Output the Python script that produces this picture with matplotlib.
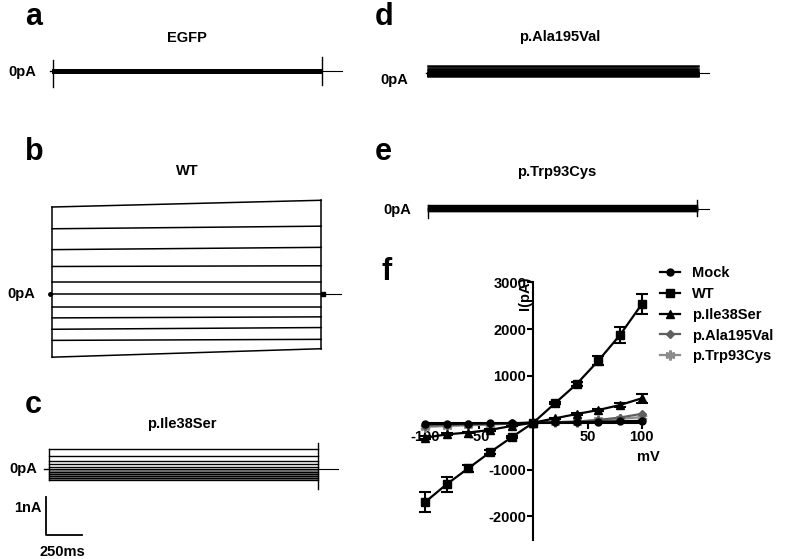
import numpy as np
import matplotlib
matplotlib.use('Agg')
import matplotlib.pyplot as plt
from matplotlib.lines import Line2D

plt.rcParams['font.family'] = ['Liberation Sans', 'DejaVu Sans']
plt.rcParams['font.weight'] = 'bold'
plt.rcParams['axes.unicode_minus'] = False

W, H = 787, 559

# voltage steps, -100 .. +100 mV
voltages = [-100, -80, -60, -40, -20, 0, 20, 40, 60, 80, 100]
sweep_ms = 1870

# representative whole-cell traces (pA), one level per sweep
wt_start = [-1642, -1203, -913, -616, -326, 0, 332, 726, 1166, 1711, 2279]
wt_end = [-1421, -1176, -868, -589, -326, 0, 332, 745, 1226, 1779, 2455]
ile_trace = [-279, -235, -183, -130, -63, 0, 52, 130, 225, 355, 522]
egfp_trace = [-50, -40, -30, -20, -10, 0, 10, 20, 30, 40, 50]
ala_trace = [-60, -50, -40, -30, -15, 0, 10, 25, 60, 110, 190]
trp_trace = [-70, -55, -45, -30, -15, 0, 10, 20, 40, 60, 90]

# I-V curves, mean and sem (pA)
mock_iv = [-30, -25, -20, -15, -10, 0, 5, 10, 20, 30, 40]
wt_iv = [-1701, -1316, -975, -633, -312, 0, 415, 827, 1325, 1874, 2530]
wt_err = [210, 160, 80, 40, 25, 0, 25, 40, 100, 165, 210]
ile_iv = [-320, -250, -210, -155, -70, 0, 93, 186, 271, 378, 521]
ile_err = [30, 20, 20, 15, 10, 0, 10, 15, 20, 40, 90]
ala_iv = [-60, -50, -40, -30, -15, 0, 10, 25, 60, 110, 190]
trp_iv = [-90, -70, -55, -40, -20, 0, 10, 20, 50, 80, 120]

fig = plt.figure(figsize=(W / 100, H / 100), dpi=100)

SX = 36 / 250.0     # px per ms
SY = 38.3 / 1000.0  # px per pA


def trace_axes(ox, oy, left=30, right=50, up=110, down=70):
    # axes with t=0, I=0 sitting at pixel (ox, oy)
    x0 = ox - left
    x1 = ox + sweep_ms * SX + right
    ax = fig.add_axes([x0 / W, 1 - (oy + down) / H, (x1 - x0) / W, (up + down) / H])
    ax.set_xlim(-left / SX, sweep_ms + right / SX)
    ax.set_ylim(-down / SY, up / SY)
    ax.axis('off')
    return ax


def ftext(x, y, s, **kw):
    fig.text(x / W, 1 - y / H, s, **kw)


t = [0, sweep_ms]
tail = [sweep_ms, sweep_ms + 140]

# a - EGFP
ax = trace_axes(53, 71.5)
for lv in egfp_trace:
    ax.plot(t, [lv, lv], color='k', lw=1.2)
ax.plot([0, 0], [-400, 300], 'k', lw=1)
ax.plot([sweep_ms] * 2, [-350, 380], 'k', lw=1)
ax.plot([-20, 0], [0, 0], 'k', lw=1)
ax.plot(tail, [0, 0], 'k', lw=0.8)

# b - WT
ax = trace_axes(52, 294.3)
for s, e in zip(wt_start, wt_end):
    ax.plot(t, [s, e], color='k', lw=1.1)
ax.plot([0, 0], [min(wt_start), max(wt_start)], 'k', lw=1.1)
ax.plot([sweep_ms] * 2, [min(wt_end), max(wt_end)], 'k', lw=1.1)
ax.plot([-15, 0], [0, 0], 'k', lw=1, marker='o', ms=2.5, markevery=[0])
ax.plot(tail, [0, 0], 'k', lw=0.8)
ax.plot([sweep_ms + 12], [0], 'ks', ms=3.5)

# c - p.Ile38Ser
ax = trace_axes(48.5, 469.3)
ax.fill_between(t, min(ile_trace), 0, color='#888888', lw=0, zorder=0)
for lv in ile_trace:
    ax.plot(t, [lv, lv], color='k', lw=1)
ax.plot([0, 0], [min(ile_trace), max(ile_trace)], 'k', lw=1)
ax.plot([sweep_ms] * 2, [-520, 680], 'k', lw=1)
ax.plot([-30, 0], [0, 0], 'k', lw=1)
ax.plot(tail, [0, 0], 'k', lw=0.8)
# scale bar 1 nA / 250 ms
ax.plot([-17, -17, 233], [-715, -1715, -1715], 'k', lw=1.3)

# d - p.Ala195Val
ax = trace_axes(428.3, 73.5)
ax.fill_between(t, min(ala_trace), max(ala_trace), color='#707070', lw=0)
for lv in ala_trace:
    ax.plot(t, [lv, lv], color='k', lw=1.8)
ax.plot([-15, 0], [0, 0], 'k', lw=1)
ax.plot([sweep_ms, sweep_ms + 80], [0, 0], 'k', lw=0.8)

# e - p.Trp93Cys
ax = trace_axes(428, 208.7)
for lv in trp_trace:
    ax.plot(t, [lv, lv], color='k', lw=1.0)
ax.plot([0, 0], [-250, 100], 'k', lw=1)
ax.plot([sweep_ms] * 2, [-190, 230], 'k', lw=1)
ax.plot([sweep_ms, sweep_ms + 80], [0, 0], 'k', lw=0.8)

# f - I-V
mx = 1.084  # px per mV
ax = fig.add_axes([(533.3 - 110 * mx) / W, 1 - 539.7 / H, 220 * mx / W, (539.7 - 282.3) / H])
ax.set_xlim(-110, 110)
ax.set_ylim(-2500, 3000)
ax.patch.set_visible(False)
for sp in ['top', 'right']:
    ax.spines[sp].set_visible(False)
ax.spines['left'].set_position(('data', 0))
ax.spines['bottom'].set_position(('data', 0))
ax.spines['bottom'].set_bounds(-100, 100)
for sp in ['left', 'bottom']:
    ax.spines[sp].set_linewidth(1.5)
ax.set_xticks([-100, -50, 50, 100])
ax.set_yticks([-2000, -1000, 1000, 2000, 3000])
ax.tick_params(width=1.5, length=4, labelsize=10.5, pad=1)
for lab in ax.get_xticklabels() + ax.get_yticklabels():
    lab.set_fontweight('bold')

eb = dict(capsize=4, elinewidth=1.5, capthick=1.5, lw=1.6, clip_on=False)
styles = [
    ('Mock', 'k', 'o', 5, 1),
    ('WT', 'k', 's', 5.5, 1),
    ('p.Ile38Ser', 'k', '^', 5.5, 1),
    ('p.Ala195Val', '#5f5f5f', 'D', 4.5, 1),
    ('p.Trp93Cys', '#8c8c8c', (6, 2, 0), 7, 2),
]
ax.plot(voltages, trp_iv, color='#8c8c8c', marker=(6, 2, 0), ms=7, mew=2, lw=1.6, clip_on=False)
ax.plot(voltages, ala_iv, color='#5f5f5f', marker='D', ms=4.5, lw=1.6, clip_on=False)
ax.errorbar(voltages, ile_iv, yerr=ile_err, color='k', marker='^', ms=5.5, **eb)
ax.plot(voltages, mock_iv, color='k', marker='o', ms=5, lw=1.6, clip_on=False)
ax.errorbar(voltages, wt_iv, yerr=wt_err, color='k', marker='s', ms=5.5, **eb)

handles = [Line2D([], [], color=c, marker=m, ms=ms, mew=mew, lw=1.6) for _, c, m, ms, mew in styles]
fig.legend(handles, [s[0] for s in styles],
           loc='upper left', bbox_to_anchor=(660 / W, 1 - 266 / H), frameon=False,
           prop={'size': 10.5, 'weight': 'bold'}, handlelength=1.4, handletextpad=0.8,
           labelspacing=0.47, borderpad=0, borderaxespad=0)

ftext(525, 293, 'I(pA)', rotation=90, ha='center', va='center', fontsize=10.5)
ftext(648, 457, 'mV', ha='center', va='center', fontsize=10.5)

# panel letters
for x, y, s in [(25, 25, 'a'), (25, 160, 'b'), (25, 413, 'c'),
                (375, 25, 'd'), (375, 160, 'e'), (381, 280, 'f')]:
    ftext(x, y, s, fontsize=22, ha='left', va='baseline')

# titles
for x, y, s in [(187, 38, 'EGFP'), (187, 171, 'WT'), (182, 424, 'p.Ile38Ser'),
                (560, 37, 'p.Ala195Val'), (557, 172, 'p.Trp93Cys')]:
    ftext(x, y, s, fontsize=10.5, ha='center', va='center')

# zero-current labels
for x, y in [(22.5, 72), (21.5, 294), (23, 469), (394, 80), (397.5, 210)]:
    ftext(x, y, '0pA', fontsize=10.5, ha='center', va='center')

ftext(27.5, 507.5, '1nA', fontsize=10.5, ha='center', va='center')
ftext(62.5, 552, '250ms', fontsize=10.5, ha='center', va='center')

fig.savefig('out.png', dpi=100)
